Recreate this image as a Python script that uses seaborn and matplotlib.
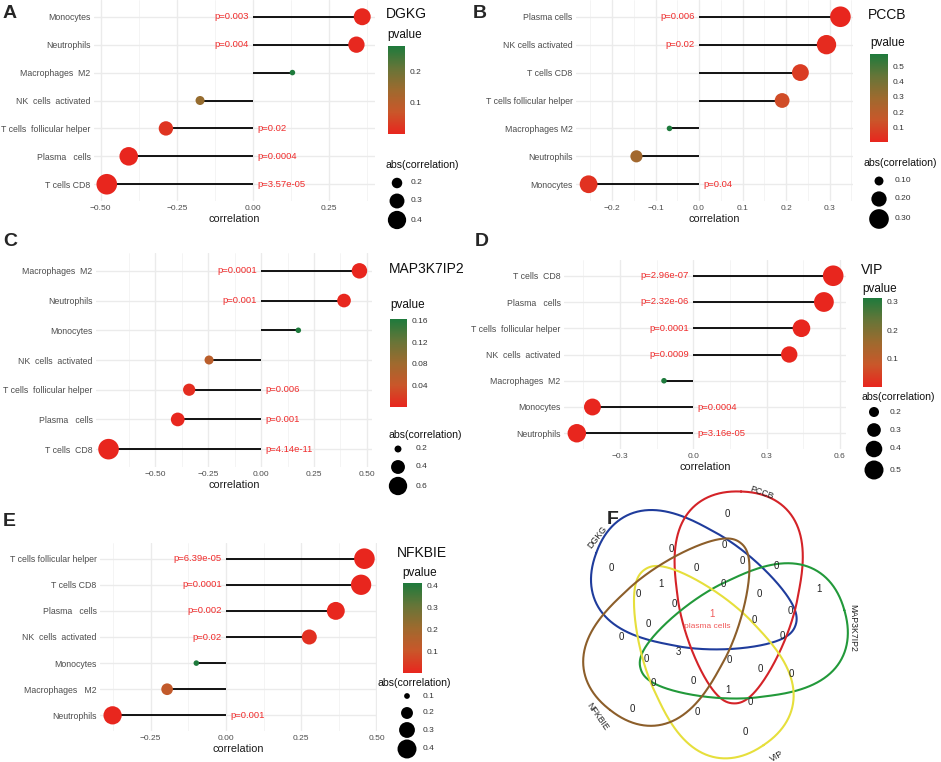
"""
Immune cell correlation lollipops for five genes plus a 5-set Venn of significant cells.
"""

import numpy as np
import pandas as pd
import matplotlib
matplotlib.use('Agg')
import matplotlib.pyplot as plt
import seaborn as sns
from matplotlib.colors import LinearSegmentedColormap, Normalize
from matplotlib.cm import ScalarMappable

W, H = 941, 762

# ---------------- data ----------------
dgkg_cells = ['Monocytes', 'Neutrophils', 'Macrophages  M2', 'NK  cells  activated',
              'T cells  follicular helper', 'Plasma   cells', 'T cells CD8']
dgkg_corr = [0.358, 0.339, 0.129, -0.174, -0.286, -0.408, -0.480]
dgkg_p = [0.003, 0.004, 0.28, 0.15, 0.02, 0.0004, 3.57e-05]
dgkg_xticks = [-0.50, -0.25, 0.00, 0.25]
dgkg_cbticks = [0.1, 0.2]
dgkg_sizebreaks = [0.2, 0.3, 0.4]

pccb_cells = ['Plasma cells', 'NK cells activated', 'T cells CD8', 'T cells follicular helper',
              'Macrophages M2', 'Neutrophils', 'Monocytes']
pccb_corr = [0.325, 0.293, 0.233, 0.191, -0.068, -0.144, -0.254]
pccb_p = [0.006, 0.02, 0.07, 0.12, 0.58, 0.28, 0.04]
pccb_xticks = [-0.2, -0.1, 0.0, 0.1, 0.2, 0.3]
pccb_cbticks = [0.1, 0.2, 0.3, 0.4, 0.5]
pccb_sizebreaks = [0.10, 0.20, 0.30]

map_cells = ['Macrophages  M2', 'Neutrophils', 'Monocytes', 'NK  cells  activated',
             'T cells  follicular helper', 'Plasma   cells', 'T cells  CD8']
map_corr = [0.465, 0.392, 0.176, -0.246, -0.340, -0.394, -0.721]
map_p = [0.0001, 0.001, 0.163, 0.055, 0.006, 0.001, 4.14e-11]
map_xticks = [-0.50, -0.25, 0.00, 0.25, 0.50]
map_cbticks = [0.04, 0.08, 0.12, 0.16]
map_sizebreaks = [0.2, 0.4, 0.6]

vip_cells = ['T cells  CD8', 'Plasma   cells', 'T cells  follicular helper', 'NK  cells  activated',
             'Macrophages  M2', 'Monocytes', 'Neutrophils']
vip_corr = [0.573, 0.535, 0.443, 0.393, -0.120, -0.413, -0.477]
vip_p = [2.96e-07, 2.32e-06, 0.0001, 0.0009, 0.314, 0.0004, 3.16e-05]
vip_xticks = [-0.3, 0.0, 0.3, 0.6]
vip_cbticks = [0.1, 0.2, 0.3]
vip_sizebreaks = [0.2, 0.3, 0.4, 0.5]

nfkbie_cells = ['T cells follicular helper', 'T cells CD8', 'Plasma   cells', 'NK  cells  activated',
                'Monocytes', 'Macrophages   M2', 'Neutrophils']
nfkbie_corr = [0.460, 0.449, 0.365, 0.277, -0.098, -0.195, -0.376]
nfkbie_p = [6.39e-05, 0.0001, 0.002, 0.02, 0.41, 0.12, 0.001]
nfkbie_xticks = [-0.25, 0.00, 0.25, 0.50]
nfkbie_cbticks = [0.1, 0.2, 0.3, 0.4]
nfkbie_sizebreaks = [0.1, 0.2, 0.3, 0.4]

# Venn: set names and the count in each of the 31 regions
venn_sets = ['DGKG', 'PCCB', 'MAP3K7IP2', 'VIP', 'NFKBIE']
venn_counts = [0, 0, 0, 0, 0, 0, 0, 1, 1, 0, 0, 0, 0, 0, 1, 0,
               0, 0, 0, 3, 0, 0, 0, 0, 0, 0, 1, 0, 0, 0, 0]
venn_shared = 'plasma cells'
venn_shared_idx = 14

# ---------------- layout (pixels) ----------------
venn_xy = [(727, 514), (611, 568), (671, 549), (724, 545), (742, 561), (696, 568),
           (776, 566), (819, 589), (661, 584), (723, 584), (638, 594), (759, 594),
           (674, 604), (790, 611), (712, 614), (648, 624), (754, 620), (621, 637),
           (782, 636), (678, 652), (646, 659), (729, 660), (760, 669), (791, 674),
           (653, 683), (693, 681), (728, 690), (750, 702), (632, 709), (697, 712),
           (745, 732)]
venn_label_xy = [(597, 537, 52), (762, 493, -20), (853, 628, -90), (777, 756, 30), (597, 717, -55)]
venn_colors = ['#1F3C9C', '#D42328', '#22993A', '#E6DF3C', '#8C5E2A']

sns.set_style('white')
plt.rcParams['font.family'] = ['Liberation Sans', 'DejaVu Sans']

pcol = LinearSegmentedColormap.from_list(
    'pvalue', ['#E8261E', '#C9572A', '#9E6A2E', '#667538', '#1E7A3C'])
SIZES = (16, 220)
PRED = '#F02B2B'


def px_axes(fig, left, top, width, height):
    return fig.add_axes([left / W, 1 - (top + height) / H, width / W, height / H])


def size_of(v, snorm):
    return SIZES[0] + (SIZES[1] - SIZES[0]) * (v - snorm[0]) / (snorm[1] - snorm[0])


def lollipop(fig, box, cells, corr, pvals, xticks, xfmt):
    df = pd.DataFrame({'cell': cells, 'correlation': corr, 'pvalue': pvals})
    df['pos'] = np.arange(len(df))
    df['abs_corr'] = df['correlation'].abs()
    pnorm = (df['pvalue'].min(), df['pvalue'].max())
    snorm = (df['abs_corr'].min(), df['abs_corr'].max())

    ax = px_axes(fig, *box)
    ax.hlines(df['pos'], 0, df['correlation'], color='black', lw=1.3, zorder=2)
    sns.scatterplot(data=df, x='correlation', y='pos', hue='pvalue', palette=pcol,
                    hue_norm=pnorm, size='abs_corr', sizes=SIZES, size_norm=snorm,
                    linewidth=0, legend=False, ax=ax, zorder=3)

    for _, r in df[df['pvalue'] < 0.05].iterrows():
        right = r['correlation'] > 0
        ax.annotate(f"p={r['pvalue']:g}", xy=(0, r['pos']), xytext=(-3 if right else 3, 0),
                    textcoords='offset points', ha='right' if right else 'left',
                    va='center', color=PRED, fontsize=6.8)

    lo = min(df['correlation'].min(), 0)
    hi = max(df['correlation'].max(), 0)
    pad = 0.05 * (hi - lo)
    ax.set_xlim(lo - pad, hi + pad)
    ax.set_ylim(len(df) - 0.4, -0.6)

    step = xticks[1] - xticks[0]
    minor = np.arange(xticks[0] - 1.5 * step, hi + pad, step)
    minor = minor[minor > lo - pad]
    ax.set_xticks(xticks)
    ax.set_xticklabels([xfmt.format(t).replace('-', '\u2212') for t in xticks])
    ax.set_xticks(minor, minor=True)
    ax.set_yticks(df['pos'])
    ax.set_yticklabels(df['cell'])
    ax.grid(which='major', color='#EBEBEB', lw=1.0)
    ax.grid(which='minor', axis='x', color='#F3F3F3', lw=0.6)
    ax.set_axisbelow(True)
    ax.tick_params(which='both', length=0)
    ax.tick_params(axis='x', labelsize=6, labelcolor='#4D4D4D', pad=3)
    ax.tick_params(axis='y', labelsize=6.3, labelcolor='#4D4D4D', pad=2.5)
    ax.set_xlabel('correlation', fontsize=7.8, labelpad=1, color='#1A1A1A')
    ax.set_ylabel('')
    for s in ax.spines.values():
        s.set_visible(False)
    return pnorm, snorm


def legend(fig, ov, gene, lay, pnorm, snorm, cbticks, cbfmt, breaks, sfmt):
    tx, ty, tha = lay['title']
    ov.text(tx, ty, gene, fontsize=10, ha=tha, va='center', color='#111111')
    px, py, pha = lay['ptitle']
    ov.text(px, py, 'pvalue', fontsize=8.5, ha=pha, va='center', color='#111111')
    cax = px_axes(fig, *lay['cbar'])
    cb = fig.colorbar(ScalarMappable(norm=Normalize(*pnorm), cmap=pcol), cax=cax, ticks=cbticks)
    cb.outline.set_visible(False)
    cax.set_yticklabels([cbfmt.format(t) for t in cbticks])
    cax.tick_params(axis='y', length=3, width=0.7, color='white', direction='in',
                    left=True, right=True, labelsize=6, labelcolor='#333333', pad=3)
    sx, sy = lay['stitle']
    ov.text(sx, sy, 'abs(correlation)', fontsize=7.6, ha='left', va='center', color='#111111')
    cx, ys, lx = lay['circ']
    ov.scatter([cx] * len(breaks), ys, s=[size_of(b, snorm) for b in breaks],
               color='black', linewidth=0)
    for b, y in zip(breaks, ys):
        ov.text(lx, y, sfmt.format(b), fontsize=6, va='center', color='#333333')


def egg(center, theta, a=106, b=60, k=0.38, n=2.2):
    """Rounded egg outline, broad end pointing along theta (degrees, y up)."""
    t = np.linspace(0, 2 * np.pi, 400)
    c, s = np.cos(t), np.sin(t)
    x = a * np.sign(c) * np.abs(c) ** (2 / n)
    y = b * np.sign(s) * np.abs(s) ** (2 / n) * (1 + k * c)
    th = np.deg2rad(theta)
    xi = center[0] + x * np.cos(th) - y * np.sin(th)
    yi = center[1] - (x * np.sin(th) + y * np.cos(th))
    return xi, yi


def venn(ov):
    cx, cy, d = 711, 622, 36
    for i, (name, col) in enumerate(zip(venn_sets, venn_colors)):
        theta = 160 - 72 * i
        phi = np.deg2rad(theta - 45)
        center = (cx + d * np.cos(phi), cy - d * np.sin(phi))
        xs, ys = egg(center, theta)
        ov.plot(xs, ys, color=col, lw=1.5)
        lx, ly, rot = venn_label_xy[i]
        ov.text(lx, ly, name, rotation=rot, fontsize=6.3, ha='center', va='center',
                color='#222222')
    for i, (n, (x, y)) in enumerate(zip(venn_counts, venn_xy)):
        col = '#F05A5A' if i == venn_shared_idx else '#222222'
        ov.text(x, y, str(n), fontsize=7, ha='center', va='center', color=col)
    x, y = venn_xy[venn_shared_idx]
    ov.text(x - 5, y + 13, venn_shared, fontsize=6, ha='center', va='center', color='#F05A5A')


def main():
    fig = plt.figure(figsize=(W / 100, H / 100), dpi=100)
    fig.patch.set_facecolor('white')

    panels = [
        ('DGKG', (94, 0, 281, 201), dgkg_cells, dgkg_corr, dgkg_p, dgkg_xticks, '{:.2f}',
         dgkg_cbticks, '{:.1f}', dgkg_sizebreaks, '{:.1f}',
         dict(title=(386, 14, 'left'), ptitle=(387, 35, 'left'), cbar=(388, 46, 17, 88),
              stitle=(386, 165), circ=(397, [183, 201, 220], 411))),
        ('PCCB', (576, 0, 277, 201), pccb_cells, pccb_corr, pccb_p, pccb_xticks, '{:.1f}',
         pccb_cbticks, '{:.1f}', pccb_sizebreaks, '{:.2f}',
         dict(title=(868, 15, 'left'), ptitle=(870, 43, 'left'), cbar=(870, 54, 18, 88),
              stitle=(864, 163), circ=(879, [181, 199, 219], 895))),
        ('MAP3K7IP2', (96, 253, 276, 214), map_cells, map_corr, map_p, map_xticks, '{:.2f}',
         map_cbticks, '{:.2f}', map_sizebreaks, '{:.1f}',
         dict(title=(389, 269, 'left'), ptitle=(390, 305, 'left'), cbar=(390, 319, 17, 88),
              stitle=(389, 435), circ=(398, [449, 467, 486], 416))),
        ('VIP', (564, 260, 282, 189), vip_cells, vip_corr, vip_p, vip_xticks, '{:.1f}',
         vip_cbticks, '{:.1f}', vip_sizebreaks, '{:.1f}',
         dict(title=(861, 270, 'left'), ptitle=(862, 289, 'left'), cbar=(863, 298, 19, 89),
              stitle=(862, 397), circ=(874, [412, 430, 449, 470], 890))),
        ('NFKBIE', (100, 543, 277, 188), nfkbie_cells, nfkbie_corr, nfkbie_p, nfkbie_xticks,
         '{:.2f}', nfkbie_cbticks, '{:.1f}', nfkbie_sizebreaks, '{:.1f}',
         dict(title=(422, 553, 'center'), ptitle=(420, 573, 'center'), cbar=(403, 583, 19, 90),
              stitle=(378, 683), circ=(407, [696, 713, 730, 749], 423))),
    ]

    drawn = []
    for gene, box, cells, corr, pv, xt, xf, cbt, cbf, sb, sf, lay in panels:
        pnorm, snorm = lollipop(fig, box, cells, corr, pv, xt, xf)
        drawn.append((gene, lay, pnorm, snorm, cbt, cbf, sb, sf))

    ov = fig.add_axes([0, 0, 1, 1])
    ov.set_xlim(0, W)
    ov.set_ylim(H, 0)
    ov.axis('off')

    for gene, lay, pnorm, snorm, cbt, cbf, sb, sf in drawn:
        legend(fig, ov, gene, lay, pnorm, snorm, cbt, cbf, sb, sf)

    for letter, (x, y) in zip('ABCDEF', [(3, 13), (473, 13), (3, 241), (475, 241),
                                         (3, 521), (607, 520)]):
        ov.text(x, y, letter, fontsize=14, fontweight='bold', ha='left', va='center')

    venn(ov)
    fig.savefig('out.png', dpi=100)
    plt.close(fig)


if __name__ == "__main__":
    main()
